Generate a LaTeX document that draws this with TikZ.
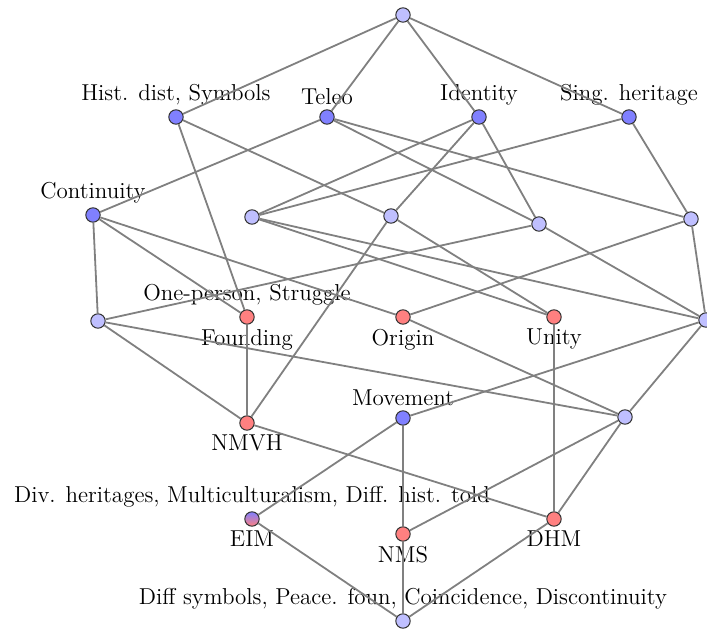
\documentclass[tikz,border=0pt]{standalone}
\usetikzlibrary{shadings}
\definecolor{edgegray}{RGB}{128,128,128}
\tikzset{
  concept/.style={circle,draw=black!80,line width=0.5pt,minimum size=7.2pt,inner sep=0pt},
  objc/.style={concept,fill=blue!50},
  attrc/.style={concept,fill=red!50},
  plainc/.style={concept,fill=blue!25},
  mixc/.style={concept,top color=blue!50,bottom color=red!50},
  edge/.style={draw=edgegray,line width=0.9pt},
  every label/.style={font=\fontsize{11.5}{13.5}\selectfont,inner sep=2pt}
}
\begin{document}
\begin{tikzpicture}[x=0.5pt,y=-0.5pt]
\useasboundingbox (0,0) rectangle (707,630);
% concepts
\node[plainc] (top) at (403,15) {};
\node[objc,label=above:{Hist. dist, Symbols}] (hist) at (176,117) {};
\node[objc,label=above:{Teleo}] (teleo) at (327,117) {};
\node[objc,label=above:{Identity}] (ident) at (479,117) {};
\node[objc,label=above:{Sing. heritage}] (sing) at (629,117) {};
\node[objc,label=above:{Continuity}] (cont) at (93,215) {};
\node[plainc] (a) at (252,217) {};
\node[plainc] (b) at (391,216) {};
\node[plainc] (c) at (539,224) {};
\node[plainc] (d) at (691,219) {};
\node[plainc] (e) at (98,321) {};
\node[attrc,label=above:{One-person, Struggle},label=below:{Founding}] (found) at (247,317) {};
\node[attrc,label=below:{Origin}] (orig) at (403,317) {};
\node[attrc,label=below:{Unity}] (unity) at (554,317) {};
\node[plainc] (r) at (706,320) {};
\node[attrc,label=below:{NMVH}] (nmvh) at (247,423) {};
\node[objc,label=above:{Movement}] (move) at (403,418) {};
\node[plainc] (m) at (625,417) {};
\node[mixc,label=above:{Div. heritages, Multiculturalism, Diff. hist. told},label=below:{EIM}] (eim) at (252,519) {};
\node[attrc,label=below:{NMS}] (nms) at (403,534) {};
\node[attrc,label=below:{DHM}] (dhm) at (554,519) {};
\node[plainc,label=above:{Diff symbols, Peace. foun, Coincidence, Discontinuity}] (bot) at (403,621) {};
% order relations
\foreach \u/\v in {top/hist,top/teleo,top/ident,top/sing,
  hist/found,hist/b,teleo/cont,teleo/c,teleo/d,
  ident/a,ident/b,ident/c,sing/a,sing/d,
  cont/e,cont/found,cont/orig,
  a/r,a/unity,b/unity,b/nmvh,c/e,c/r,d/orig,d/r,
  e/nmvh,e/m,found/nmvh,orig/m,unity/dhm,
  r/move,r/m,nmvh/dhm,move/eim,move/nms,m/nms,m/dhm,
  eim/bot,nms/bot,dhm/bot}
  \draw[edge] (\u) -- (\v);
\end{tikzpicture}
\end{document}
